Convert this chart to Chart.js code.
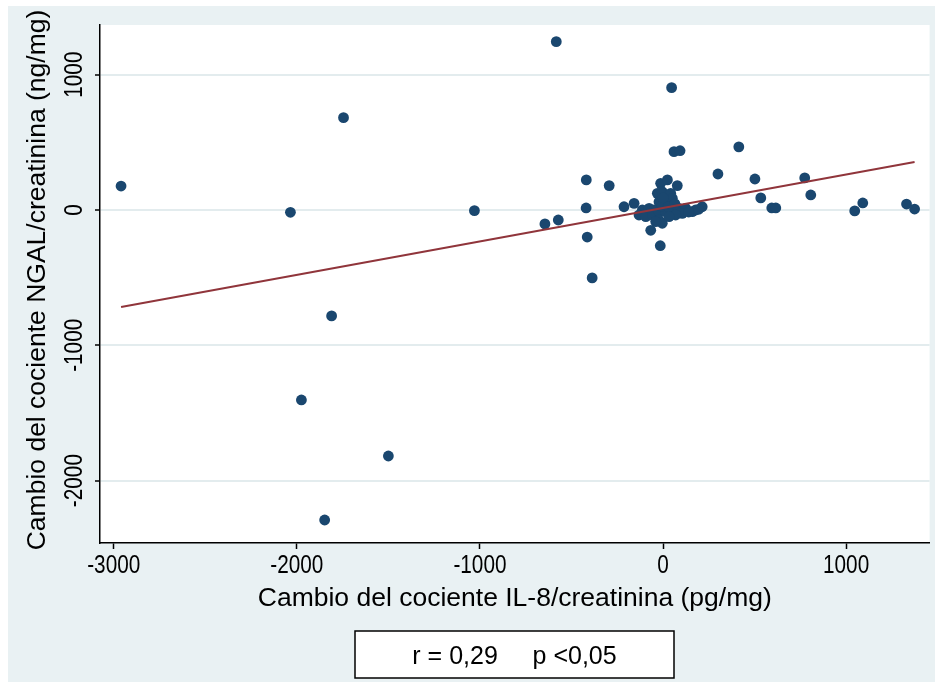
<!DOCTYPE html>
<html>
<head>
<meta charset="utf-8">
<script src="https://cdn.jsdelivr.net/npm/chart.js@4/dist/chart.umd.min.js"></script>
<style>
  html, body { margin: 0; padding: 0; background: #ffffff; }
  #wrap { position: relative; width: 935px; height: 682px; }
</style>
</head>
<body>
<div id="wrap"><canvas id="c" width="935" height="682"></canvas></div>
<script>
// Change in IL-8/creatinine ratio (pg/mg)
const il8Change = [
  -2960, -2035, -1745, -1810, -1975, -1500, -1848, -1030,
  -583, -645, -572, -419, -294, -420, -414, -387, -213, -158,
  -13, 24, 78, -31, -4, 42, 51, -22, 15, -113, -76, -49, -131, -94, -58,
  -22, 15, 51, 87, 124, 105, 160, 214, 178, -22, -4, -40, -67, -15, 69, 33,
  -5, 30, 65, 0, 140, 195,
  47, 60, 93,
  300, 414, 502, 534, 594, 616, 774, 807, 1047, 1091, 1330, 1374
];
// Change in NGAL/creatinine ratio (ng/mg)
const ngalChange = [
  177, -17, 682, -783, -1404, -1818, -2291, -5,
  1244, -103, -74, 222, 180, 15, -200, -502, 24, 49,
  197, 222, 180, 123, 135, 123, 86, 61, 49, 0, 12, 0, -37, -49, -37,
  -12, -12, 0, 12, 12, -25, -12, 24, 0, -74, -98, -86, -150, -264, -37, -49,
  30, 25, 45, 90, -15, 5,
  904, 431, 438,
  266, 466, 229, 89, 15, 15, 237, 111, -7, 52, 44, 7
];
// Linear fit, drawn across the observed range of x
const fitX = [-2960, 1374];
const fitY = [-717, 355];

const xTicks = [-3000, -2000, -1000, 0, 1000];
const yTicks = [-2000, -1000, 0, 1000];

const xTitle = 'Cambio del cociente IL-8/creatinina (pg/mg)';
const yTitle = 'Cambio del cociente NGAL/creatinina (ng/mg)';
const statsNote = 'r = 0,29     p <0,05';

const points = il8Change.map((x, i) => ({ x: x, y: ngalChange[i] }));
const fitLine = fitX.map((x, i) => ({ x: x, y: fitY[i] }));

const FONT = '"Liberation Sans", Arial, sans-serif';
const BG = '#e9f1f3';

function drawText(ctx, text, x, y, size, sx, rot, align, baseline) {
  ctx.save();
  ctx.translate(x, y);
  if (rot) ctx.rotate(rot);
  ctx.scale(sx, 1);
  ctx.font = size + 'px ' + FONT;
  ctx.textAlign = align;
  ctx.textBaseline = baseline;
  ctx.fillStyle = '#000';
  ctx.fillText(text, 0, 0);
  ctx.restore();
}

const backdrop = {
  id: 'backdrop',
  beforeDraw(chart) {
    const ctx = chart.ctx, a = chart.chartArea;
    ctx.save();
    ctx.fillStyle = '#ffffff';
    ctx.fillRect(0, 0, chart.width, chart.height);
    ctx.fillStyle = BG;
    ctx.fillRect(8, 6, chart.width - 8, chart.height - 6);
    ctx.fillStyle = '#ffffff';
    ctx.fillRect(a.left, a.top, a.right - a.left, a.bottom - a.top);
    ctx.restore();
  }
};

const labels = {
  id: 'labels',
  afterDraw(chart) {
    const ctx = chart.ctx;
    const xs = chart.scales.x, ys = chart.scales.y, a = chart.chartArea;
    xs.ticks.forEach(t => {
      drawText(ctx, String(t.value), xs.getPixelForValue(t.value), 573, 25, 0.83, 0, 'center', 'alphabetic');
    });
    ys.ticks.forEach(t => {
      drawText(ctx, String(t.value), 82, ys.getPixelForValue(t.value), 25, 0.83, -Math.PI / 2, 'center', 'alphabetic');
    });
    drawText(ctx, xTitle, (a.left + a.right) / 2, 606, 26.5, 1, 0, 'center', 'alphabetic');
    drawText(ctx, yTitle, 45, (a.top + a.bottom) / 2 - 4, 26.5, 1, -Math.PI / 2, 'center', 'alphabetic');
    // statistics box
    ctx.save();
    ctx.fillStyle = '#ffffff';
    ctx.fillRect(355, 631, 319, 47);
    ctx.strokeStyle = '#000';
    ctx.lineWidth = 1.5;
    ctx.strokeRect(355, 631, 319, 47);
    ctx.restore();
    drawText(ctx, statsNote, 514.5, 664, 25, 1, 0, 'center', 'alphabetic');
  }
};

new Chart(document.getElementById('c'), {
  type: 'scatter',
  data: {
    datasets: [
      {
        type: 'line',
        data: fitLine,
        borderColor: '#90353b',
        borderWidth: 2,
        pointRadius: 0,
        fill: false,
        order: 0
      },
      {
        data: points,
        backgroundColor: '#1a476f',
        borderColor: '#1a476f',
        borderWidth: 0,
        pointRadius: 5.4,
        pointHoverRadius: 5.4,
        order: 1
      }
    ]
  },
  options: {
    responsive: false,
    animation: false,
    events: [],
    layout: { padding: { left: 0, top: 25, right: 4, bottom: 0 } },
    plugins: { legend: { display: false }, tooltip: { enabled: false } },
    scales: {
      x: {
        type: 'linear',
        min: -3075,
        max: 1456,
        afterBuildTicks(s) { s.ticks = xTicks.map(v => ({ value: v })); },
        afterFit(s) { s.height = 139; },
        ticks: { display: false },
        grid: { drawOnChartArea: false, drawTicks: true, tickLength: 6, tickColor: '#000', tickWidth: 1.5 },
        border: { display: true, color: '#000', width: 1.5 }
      },
      y: {
        type: 'linear',
        min: -2461,
        max: 1367,
        afterBuildTicks(s) { s.ticks = yTicks.map(v => ({ value: v })); },
        afterFit(s) { s.width = 100; },
        ticks: { display: false },
        grid: { color: '#e3ecee', lineWidth: 2, drawTicks: true, tickLength: 5, tickColor: '#000', tickWidth: 1.5 },
        border: { display: true, color: '#000', width: 1.5 }
      }
    }
  },
  plugins: [backdrop, labels]
});
</script>
</body>
</html>
